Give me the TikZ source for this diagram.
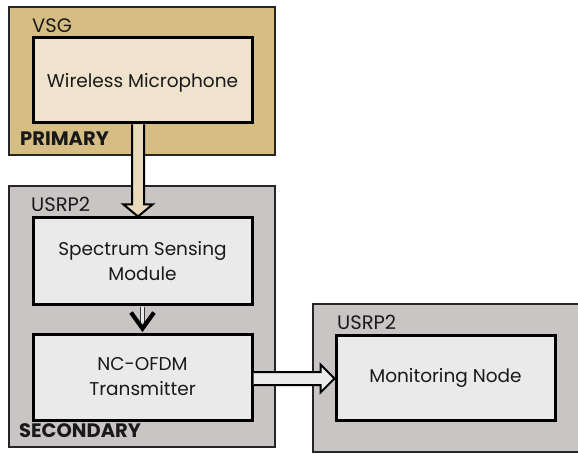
\documentclass[tikz,border=0pt]{standalone}
\usepackage{fontspec}
\setmainfont{Poppins}
\usetikzlibrary{calc}
\definecolor{primfill}{RGB}{213,189,132}
\definecolor{micfill}{RGB}{239,227,205}
\definecolor{secfill}{RGB}{201,197,196}
\definecolor{modfill}{RGB}{234,234,234}
\definecolor{arrowtan}{RGB}{233,218,188}
\definecolor{arrowgray}{RGB}{236,236,236}
\begin{document}
\begin{tikzpicture}[x=1pt,y=-1pt,
  outerbox/.style={draw=black!85, line width=2.2pt, inner sep=0pt},
  modbox/.style={draw=black, line width=3pt, fill=modfill, inner sep=0pt,
    minimum width=219pt, minimum height=86pt, align=center,
    font=\fontsize{18.5}{25}\selectfont, text=black!90},
  tag/.style={inner sep=0pt, font=\fontsize{19.5}{22}\selectfont, text=black!90},
  bigtag/.style={inner sep=0pt, font=\fontsize{19.5}{22}\selectfont\bfseries, text=black!90},
  hollow/.style={draw=black, line width=2pt, line join=miter}
]
\useasboundingbox (0,0) rectangle (578,454);
% containers
\node[outerbox, fill=primfill, minimum width=266pt, minimum height=148pt] (prim) at (142,81) {};
\node[outerbox, fill=secfill, minimum width=266pt, minimum height=261pt] (sec) at (142,316.5) {};
\node[outerbox, fill=secfill, minimum width=300pt, minimum height=148pt] (mon) at (463,378) {};
% modules
\node[modbox, fill=micfill, minimum height=85pt, text depth=-3pt] (wm) at (142.5,80.5) {Wireless Microphone};
\node[modbox] (ssm) at (142.5,261) {Spectrum Sensing\\Module};
\node[modbox] (nc) at (142.5,377) {NC-OFDM\\Transmitter};
\node[modbox, minimum height=85pt] (mn) at (445.5,377.5) {Monitoring Node};
% labels
\node[tag, anchor=base west] (vsg) at (32,33) {VSG};
\node[bigtag, anchor=base west] (primary) at (20,146) {PRIMARY};
\node[tag, anchor=base west] (usrpa) at (31,212) {USRP2};
\node[bigtag, anchor=base west] (secondary) at (19,437) {SECONDARY};
\node[tag, anchor=base west] (usrpb) at (337,329) {USRP2};
% arrow 1
\coordinate (a1s) at ($(wm.south)+(-4.5,0)$);
\coordinate (a1e) at ($(ssm.north)+(-4.5,0)$);
\draw[hollow, fill=arrowtan] ($(a1s)+(-6,0)$) -- ($(a1e)+(-6,-12)$) -- ($(a1e)+(-14.5,-12)$)
  -- (a1e) -- ($(a1e)+(14.5,-12)$) -- ($(a1e)+(6,-12)$) -- ($(a1s)+(6,0)$);
% arrow 2
\draw[draw=black!80, line width=1.2pt, double=modfill, double distance=2.6pt]
  ($(ssm.south)+(0,1.5)$) -- ($(nc.north)+(0,-11)$);
\draw[line width=4.2pt, line join=miter, line cap=butt]
  ($(nc.north)+(-11.5,-20)$) -- ($(nc.north)+(0,-4)$) -- ($(nc.north)+(11.5,-20)$);
% arrow 3
\coordinate (a3s) at ($(nc.east)+(0,1.5)$);
\coordinate (a3e) at ($(mn.west)+(0,1)$);
\draw[hollow, fill=arrowgray] ($(a3s)+(0,-6.5)$) -- ($(a3e)+(-14,-6.5)$) -- ($(a3e)+(-14,-14)$)
  -- (a3e) -- ($(a3e)+(-14,14)$) -- ($(a3e)+(-14,6.5)$) -- ($(a3s)+(0,6.5)$);
\end{tikzpicture}
\end{document}
